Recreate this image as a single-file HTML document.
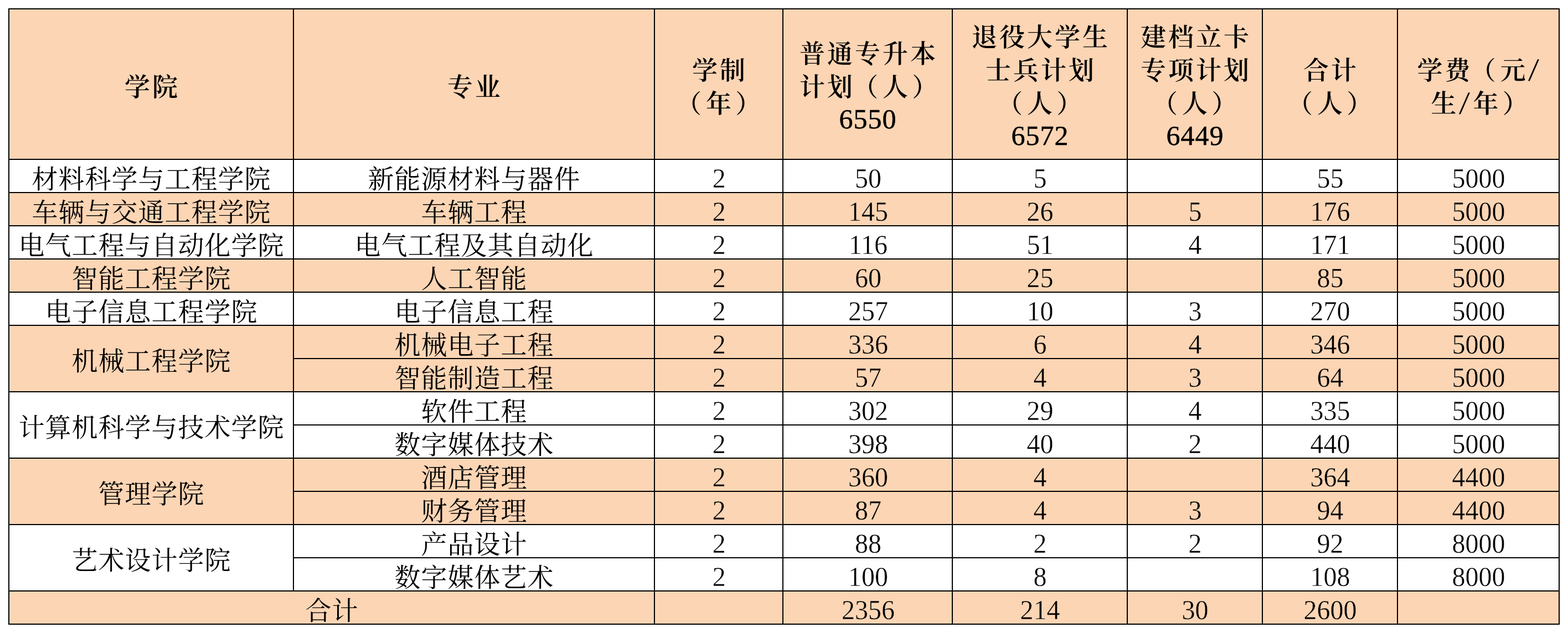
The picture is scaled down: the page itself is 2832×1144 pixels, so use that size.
<!DOCTYPE html>
<html lang="zh-CN">
<head>
<meta charset="utf-8">
<title>专升本招生计划</title>
<style>
html,body{margin:0;padding:0;background:#fff;}
body{width:2832px;height:1144px;overflow:hidden;position:relative;
 font-family:"Liberation Serif","Noto Serif CJK SC",serif;color:#000;}
table{position:absolute;left:15px;top:15px;width:2802px;height:1114px;
 border-collapse:collapse;table-layout:fixed;border:2px solid #000;}
th,td{border:2px solid #000;padding:0;text-align:center;overflow:hidden;white-space:nowrap;}
tr.o>*{background:#fcd5b4;}
tr.w>*{background:#fff;}
thead tr{height:272px;}
tbody tr{height:60px;}
th{font-size:46px;font-weight:600;line-height:60px;
 letter-spacing:4px;vertical-align:middle;}
th>div{position:relative;top:6px;left:2px;}
th .hn{line-height:0;font-size:50px;font-weight:400;letter-spacing:1px;
 -webkit-text-stroke:0.5px #000;position:relative;top:-1px;left:-1.5px;}
th .lp{position:relative;left:-4px;}
th .rp{position:relative;left:3.3px;}
th .sl{display:inline-block;width:26px;text-align:center;letter-spacing:0;font-size:60px;
 font-weight:400;-webkit-text-stroke:0.5px #fcd5b4;position:relative;top:3px;left:-3px;line-height:1px;vertical-align:baseline;transform:scaleX(1.25);}
th.h8>div{margin-left:1px;}
td{font-size:47px;font-weight:400;letter-spacing:1px;line-height:48px;
 vertical-align:bottom;padding-bottom:0px;}
td>div{position:relative;left:0.5px;top:1px;}
td.m{vertical-align:middle;padding-bottom:0;}
td.m>div{top:5px;}
td.n{font-size:48px;letter-spacing:0px;}
tr.w td.n{-webkit-text-stroke:0.4px #fff;}
tr.o td.n{-webkit-text-stroke:0.4px #fcd5b4;}
td.n>div{left:0px;top:0px;transform:scaleY(1.036);transform-origin:50% 46px;}
td.c3>div{margin-left:1.5px;}
td.c4>div{margin-left:2px;}
td.c5>div{margin-left:1px;}
td.c6>div{margin-left:1px;}
td.c7>div{margin-left:1px;}
td.c8>div{margin-left:1px;}
</style>
</head>
<body>
<table>
<colgroup>
<col style="width:514px">
<col style="width:652px">
<col style="width:232px">
<col style="width:306px">
<col style="width:316px">
<col style="width:244px">
<col style="width:244px">
<col style="width:292px">
</colgroup>
<thead>
<tr class="o">
<th class="h1"><div>学院</div></th>
<th class="h2"><div>专业</div></th>
<th class="h3"><div>学制<br><span class="lp">（</span>年<span class="rp">）</span></div></th>
<th class="h4"><div>普通专升本<br>计划<span class="lp">（</span>人<span class="rp">）</span><br><span class="hn">6550</span></div></th>
<th class="h5"><div>退役大学生<br>士兵计划<br><span class="lp">（</span>人<span class="rp">）</span><br><span class="hn">6572</span></div></th>
<th class="h6"><div>建档立卡<br>专项计划<br><span class="lp">（</span>人<span class="rp">）</span><br><span class="hn">6449</span></div></th>
<th class="h7"><div>合计<br><span class="lp">（</span>人<span class="rp">）</span></div></th>
<th class="h8"><div>学费<span class="lp">（</span>元<span class="sl">/</span><br>生<span class="sl">/</span>年<span class="rp">）</span></div></th>
</tr>
</thead>
<tbody>
<tr class="w">
<td class="c1"><div>材料科学与工程学院</div></td>
<td class="c2"><div>新能源材料与器件</div></td>
<td class="n c3"><div>2</div></td>
<td class="n c4"><div>50</div></td>
<td class="n c5"><div>5</div></td>
<td class="n c6"></td>
<td class="n c7"><div>55</div></td>
<td class="n c8"><div>5000</div></td>
</tr>
<tr class="o">
<td class="c1"><div>车辆与交通工程学院</div></td>
<td class="c2"><div>车辆工程</div></td>
<td class="n c3"><div>2</div></td>
<td class="n c4"><div>145</div></td>
<td class="n c5"><div>26</div></td>
<td class="n c6"><div>5</div></td>
<td class="n c7"><div>176</div></td>
<td class="n c8"><div>5000</div></td>
</tr>
<tr class="w">
<td class="c1"><div>电气工程与自动化学院</div></td>
<td class="c2"><div>电气工程及其自动化</div></td>
<td class="n c3"><div>2</div></td>
<td class="n c4"><div>116</div></td>
<td class="n c5"><div>51</div></td>
<td class="n c6"><div>4</div></td>
<td class="n c7"><div>171</div></td>
<td class="n c8"><div>5000</div></td>
</tr>
<tr class="o">
<td class="c1"><div>智能工程学院</div></td>
<td class="c2"><div>人工智能</div></td>
<td class="n c3"><div>2</div></td>
<td class="n c4"><div>60</div></td>
<td class="n c5"><div>25</div></td>
<td class="n c6"></td>
<td class="n c7"><div>85</div></td>
<td class="n c8"><div>5000</div></td>
</tr>
<tr class="w">
<td class="c1"><div>电子信息工程学院</div></td>
<td class="c2"><div>电子信息工程</div></td>
<td class="n c3"><div>2</div></td>
<td class="n c4"><div>257</div></td>
<td class="n c5"><div>10</div></td>
<td class="n c6"><div>3</div></td>
<td class="n c7"><div>270</div></td>
<td class="n c8"><div>5000</div></td>
</tr>
<tr class="o">
<td class="m c1" rowspan="2"><div>机械工程学院</div></td>
<td class="c2"><div>机械电子工程</div></td>
<td class="n c3"><div>2</div></td>
<td class="n c4"><div>336</div></td>
<td class="n c5"><div>6</div></td>
<td class="n c6"><div>4</div></td>
<td class="n c7"><div>346</div></td>
<td class="n c8"><div>5000</div></td>
</tr>
<tr class="o">
<td class="c2"><div>智能制造工程</div></td>
<td class="n c3"><div>2</div></td>
<td class="n c4"><div>57</div></td>
<td class="n c5"><div>4</div></td>
<td class="n c6"><div>3</div></td>
<td class="n c7"><div>64</div></td>
<td class="n c8"><div>5000</div></td>
</tr>
<tr class="w">
<td class="m c1" rowspan="2"><div>计算机科学与技术学院</div></td>
<td class="c2"><div>软件工程</div></td>
<td class="n c3"><div>2</div></td>
<td class="n c4"><div>302</div></td>
<td class="n c5"><div>29</div></td>
<td class="n c6"><div>4</div></td>
<td class="n c7"><div>335</div></td>
<td class="n c8"><div>5000</div></td>
</tr>
<tr class="w">
<td class="c2"><div>数字媒体技术</div></td>
<td class="n c3"><div>2</div></td>
<td class="n c4"><div>398</div></td>
<td class="n c5"><div>40</div></td>
<td class="n c6"><div>2</div></td>
<td class="n c7"><div>440</div></td>
<td class="n c8"><div>5000</div></td>
</tr>
<tr class="o">
<td class="m c1" rowspan="2"><div>管理学院</div></td>
<td class="c2"><div>酒店管理</div></td>
<td class="n c3"><div>2</div></td>
<td class="n c4"><div>360</div></td>
<td class="n c5"><div>4</div></td>
<td class="n c6"></td>
<td class="n c7"><div>364</div></td>
<td class="n c8"><div>4400</div></td>
</tr>
<tr class="o">
<td class="c2"><div>财务管理</div></td>
<td class="n c3"><div>2</div></td>
<td class="n c4"><div>87</div></td>
<td class="n c5"><div>4</div></td>
<td class="n c6"><div>3</div></td>
<td class="n c7"><div>94</div></td>
<td class="n c8"><div>4400</div></td>
</tr>
<tr class="w">
<td class="m c1" rowspan="2"><div>艺术设计学院</div></td>
<td class="c2"><div>产品设计</div></td>
<td class="n c3"><div>2</div></td>
<td class="n c4"><div>88</div></td>
<td class="n c5"><div>2</div></td>
<td class="n c6"><div>2</div></td>
<td class="n c7"><div>92</div></td>
<td class="n c8"><div>8000</div></td>
</tr>
<tr class="w">
<td class="c2"><div>数字媒体艺术</div></td>
<td class="n c3"><div>2</div></td>
<td class="n c4"><div>100</div></td>
<td class="n c5"><div>8</div></td>
<td class="n c6"></td>
<td class="n c7"><div>108</div></td>
<td class="n c8"><div>8000</div></td>
</tr>
<tr class="o">
<td class="t" colspan="2"><div>合计</div></td>
<td class="n c3"></td>
<td class="n c4"><div>2356</div></td>
<td class="n c5"><div>214</div></td>
<td class="n c6"><div>30</div></td>
<td class="n c7"><div>2600</div></td>
<td class="n c8"></td>
</tr>
</tbody>
</table>
</body>
</html>
